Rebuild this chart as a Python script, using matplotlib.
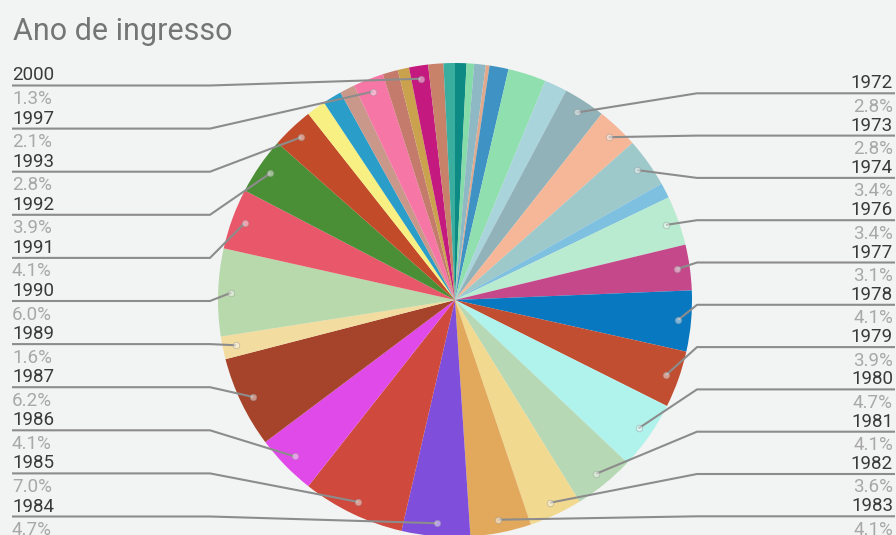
import numpy as np
import matplotlib
matplotlib.use("Agg")
import matplotlib.pyplot as plt

# ---------------- data ----------------
years = ["1965", "1966", "1967", "1968", "1969", "1970", "1971",
         "1972", "1973", "1974", "1975", "1976", "1977", "1978", "1979",
         "1980", "1981", "1982", "1983", "1984", "1985", "1986", "1987",
         "1989", "1990", "1991", "1992", "1993", "1994", "1995", "1996",
         "1997", "1998", "1999", "2000", "2001", "2002"]
counts = [3, 2, 3, 1, 5, 10, 6,
          11, 11, 13, 4, 13, 12, 16, 15,
          18, 16, 14, 16, 18, 27, 16, 24,
          6, 23, 16, 15, 11, 5, 5, 4,
          8, 4, 3, 5, 4, 3]
colors = ["#0e8a84", "#86dca8", "#8db8c4", "#e0a88c", "#3f93c4", "#8fe0ae", "#a9d4dc",
          "#90b2b8", "#f6b798", "#9dc9cb", "#7ec0e0", "#b8ebd0", "#c5488a", "#0878c0", "#c24e32",
          "#b0f2ec", "#b6d8b4", "#f2d990", "#e2a95c", "#7f4fdc", "#cf4a3c", "#e04ae8", "#a5442a",
          "#f2dca0", "#b8d9ab", "#e9586a", "#4a8e36", "#c24c2a", "#f8f082", "#2a9ec8", "#c9988a",
          "#f676a6", "#c47b6c", "#caa24e", "#c41a80", "#c9826a", "#3aae9e"]
left_labels = ["2000", "1997", "1993", "1992", "1991", "1990", "1989",
               "1987", "1986", "1985", "1984"]
right_labels = ["1972", "1973", "1974", "1976", "1977", "1978", "1979",
                "1980", "1981", "1982", "1983"]
title = "Ano de ingresso"

# ---------------- layout ----------------
W, H = 896, 535
BG = "#f2f3f3"
plt.rcParams['font.family'] = ['Roboto', 'DejaVu Sans']

fig = plt.figure(figsize=(W / 100, H / 100), dpi=100, facecolor=BG)
ax = fig.add_axes([0, 0, 1, 1])
ax.set_facecolor(BG)

def Y(y_img):
    return H - y_img

cx, cy, R = 455, Y(300), 237
wedges, _ = ax.pie(counts, colors=colors, startangle=90, counterclock=False,
                   center=(cx, cy), radius=R, wedgeprops=dict(linewidth=0))

total = sum(counts)
idx = {y: i for i, y in enumerate(years)}

def dot_pos(year):
    w = wedges[idx[year]]
    mid = np.deg2rad((w.theta1 + w.theta2) / 2)
    r = 0.945 * R
    return cx + r * np.cos(mid), cy + r * np.sin(mid)

line_col = "#8c8c8c"
year_col = "#3a3a3a"
pct_col = "#a8a8a8"
fs = 13.5

def draw_label(year, Ly, side):
    dx, dy = dot_pos(year)
    if side == "left":
        xs = [12, 210, dx]
        tx, ha = 12, "left"
    else:
        xs = [895, 697, dx]
        tx, ha = 893, "right"
    ys = [Y(Ly), Y(Ly), dy]
    ax.plot(xs, ys, color=line_col, lw=1.5, solid_capstyle="butt", zorder=3)
    ax.scatter([dx], [dy], s=22, color="white", alpha=0.45, edgecolors=line_col,
               linewidths=0.6, zorder=4)
    pct = f"{100 * counts[idx[year]] / total:.1f}%"
    ax.text(tx, Y(Ly - 5), year, ha=ha, va="baseline", fontsize=fs, color=year_col)
    ax.text(tx, Y(Ly + 18.5), pct, ha=ha, va="baseline", fontsize=fs, color=pct_col)

for i, yr in enumerate(left_labels):
    draw_label(yr, 85.5 + i * 43.1, "left")
for i, yr in enumerate(right_labels):
    draw_label(yr, 93.3 + i * 42.3, "right")

ax.text(13, Y(40), title, ha="left", va="baseline", fontsize=22, color="#757575")

ax.set_xlim(0, W)
ax.set_ylim(0, H)
ax.set_aspect("auto")
ax.axis("off")

fig.savefig("out.png", dpi=100, facecolor=BG)
